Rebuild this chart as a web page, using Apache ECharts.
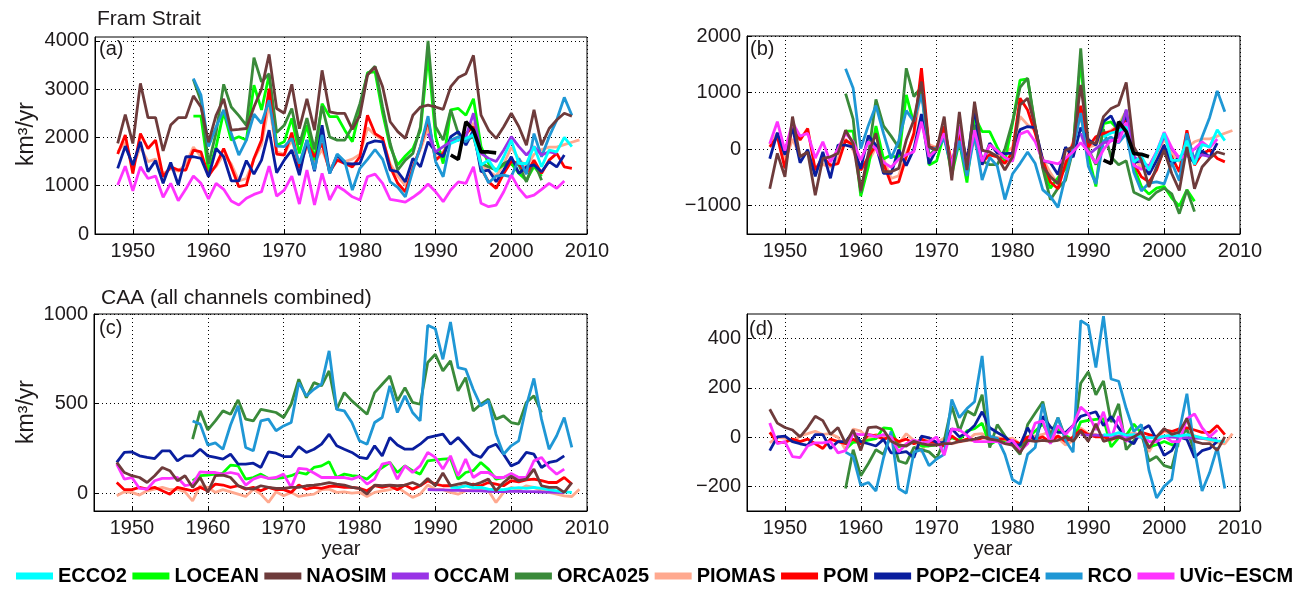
<!DOCTYPE html>
<html><head><meta charset="utf-8">
<script src="https://cdn.jsdelivr.net/npm/echarts@6/dist/echarts.min.js"></script>
<style>html,body{margin:0;padding:0;background:#fff}#c{width:1302px;height:589px}</style>
</head><body><div id="c"></div>
<script>
// ---------- models ----------
const modelNames  = ['ECCO2','LOCEAN','NAOSIM','OCCAM','ORCA025','PIOMAS','POM','POP2\u2212CICE4','RCO','UVic\u2212ESCM'];
const modelColors = ['#00FFFF','#00FF00','#6E3B3B','#9933E6','#3A8A3A','#FFA98F','#FF0000','#0A1E9E','#1F97D5','#FF33FF'];
const startYears  = [1992,1958,1948,1989,1958,1948,1948,1948,1958,1948];
const obsStart = 1992;

// ---------- tick labels ----------
const xTickYears = [1950,1960,1970,1980,1990,2000,2010];
const framTicks = [0,1000,2000,3000,4000];
const framAnomTicks = [-1000,0,1000,2000];
const caaTicks = [0,500,1000];
const caaAnomTicks = [-200,0,200,400];

// ---------- (a) Fram Strait, km3/yr ----------
const framECCO2 = [1875,1945,1980,2050,1430,1530,1290,1600,1945,1460,1460,1810,1390,1740,1700,2000,1810];
const framLOCEAN = [2440,2440,1290,1810,2530,1945,2015,1945,3080,2570,3290,1840,1910,2395,1670,2255,1530,2700,2430,2430,2150,1910,2570,3340,3360,2500,1810,1430,1615,1770,2150,3700,2015,1460,2570,2600,2460,2800,1810,1460,1325,1430,1460,1255,1115,1400,1200];
const framNAOSIM = [1875,2475,1875,3120,2410,2410,1720,2255,2410,2410,2860,2630,1900,2460,2800,2150,2165,2185,2630,3000,3720,2600,2500,3100,2180,2800,2150,3390,2530,2500,2500,2165,2460,3290,3460,3050,2325,2120,1980,2460,2630,2670,2630,2580,3050,3240,3320,3700,2460,2150,1980,2220,2500,2220,1840,2570,1840,2185,2360,2500,2440];
const framOCCAM = [2080,1700,1810,1910,1945,2015,2500,1670,1565,1500,1740,2015,1810,1635,1810,1635,1700,1670];
const framORCA025 = [3200,2750,1450,2100,3100,2630,2450,2250,3650,3150,3320,2100,2250,2600,1850,2400,1750,2650,2010,1945,1945,2220,2700,3310,3475,2630,1875,1325,1530,1670,2220,4000,2220,1945,2570,2080,1945,2015,1460,1390,1325,1460,1530,1430,1080,1500,1115];
const framPIOMAS = [1700,1900,1400,1800,1500,1550,1250,1350,1300,1450,1800,1600,1250,1400,1650,1450,1100,1150,1550,1850,2700,1700,1650,1950,1400,1800,1500,1750,1350,1550,1500,1550,1650,2200,2050,1950,1450,1200,1000,1400,1750,2200,1650,1700,1900,1950,2050,2300,1450,1300,1200,1450,1800,1550,1400,1650,1750,1800,1800,1850,1900,1950];
const framPOM = [1655,2050,1255,2080,1770,1945,1185,1390,1325,1325,1740,1700,1200,1430,1770,1390,980,1015,1565,1945,3010,1655,1635,2100,1360,1875,1600,1875,1290,1530,1460,1390,1600,2460,2080,1980,1390,1050,875,1360,1810,2360,1530,1670,1945,1945,2080,2220,1360,1080,945,1255,1500,1460,1255,1530,1255,1530,1670,1390,1360];
const framPOP2 = [1360,1820,1430,1910,1290,1520,1050,1480,1015,1600,1600,1565,1185,1770,1600,1100,1100,1520,1240,1530,2150,1270,1530,1740,1220,1945,1300,2255,1255,1635,1460,1450,1460,1875,1930,1910,1325,1290,1080,1565,1390,1910,1700,1600,2015,2120,1840,2150,1290,1325,1080,1325,1600,1255,1390,1430,1290,1500,1390,1635];
const framRCO = [3220,2875,1810,2220,2570,2080,1635,1945,2480,2290,2770,1820,1810,1980,1460,1945,1325,2050,1255,1655,1500,910,1360,1545,1750,1545,1080,965,770,1325,1810,2440,1500,1185,1945,2015,1910,2080,1390,1060,1200,1220,1185,1565,1240,2080,1600,2015,2360,2830,2460];
const framUVic = [1015,1405,895,1390,1150,1200,760,1050,690,930,1200,1050,725,1050,925,685,600,740,820,875,1405,785,910,1200,620,1325,600,1255,705,995,895,770,705,1185,1240,1050,715,690,660,760,875,1035,875,670,910,1080,1050,1390,635,565,600,875,1220,945,760,805,925,1050,945,1100];
const framObs = [1635,1545,2325,2150,1700,1700,1680];

// ---------- (b) Fram Strait anomalies ----------
const framAnomECCO2 = [215,285,320,390,-230,-130,-370,-60,285,-200,-200,150,-270,80,40,340,150];
const framAnomLOCEAN = [320,320,-830,-310,410,-175,-105,-175,960,450,1170,-280,-210,275,-450,135,-590,580,310,310,30,-210,450,1220,1240,380,-310,-690,-505,-350,30,1580,-105,-660,450,480,340,680,-310,-660,-795,-690,-660,-865,-1005,-720,-920];
const framAnomNAOSIM = [-700,-75,-490,575,-135,-50,-815,-165,-135,-75,335,100,-730,-75,280,-400,-400,-340,160,515,1195,40,-20,575,-550,660,-370,840,-20,-50,-130,-370,-140,780,900,400,-310,-490,-610,-20,40,1135,130,100,575,720,780,1180,40,-195,-670,-315,-20,-430,-730,40,-700,-315,-165,-50,-90];
const framAnomOCCAM = [280,-100,10,110,145,215,700,-130,-235,-300,-60,215,10,-165,10,-165,-100,-130];
const framAnomORCA025 = [980,530,-770,-120,880,410,230,30,1430,930,1100,-120,30,380,-370,180,-470,430,-210,-275,-275,0,480,1090,1255,410,-345,-895,-690,-550,0,1780,0,-275,350,-140,-275,-205,-760,-830,-895,-760,-690,-790,-1140,-720,-1105];
const framAnomPIOMAS = [80,280,-220,180,-120,-70,-370,-270,-320,-170,180,-20,-370,-220,30,-170,-520,-470,-70,230,1080,80,30,330,-220,180,-120,130,-270,-70,-120,-70,30,580,430,330,-170,-420,-620,-220,130,580,30,80,280,330,430,680,-170,-320,-420,-170,180,-70,-220,30,130,180,180,230,280,330];
const framAnomPOM = [40,220,-340,425,160,365,-370,-135,-285,-255,160,70,-370,-135,70,-255,-610,-580,-135,280,1430,40,10,400,-285,280,-195,280,-225,-100,-135,-255,-50,900,690,280,-195,-580,-700,-255,100,765,40,220,280,310,400,515,-255,-490,-580,-370,10,-135,-400,335,-285,-75,-20,-165,-225];
const framAnomPOP2 = [-170,290,-100,380,-240,-10,-480,-50,-515,70,70,35,-345,240,70,-430,-430,-10,-290,0,620,-260,0,210,-310,415,-230,725,-275,105,-70,-80,-70,345,400,380,-205,-240,-450,35,-140,380,170,70,485,590,310,620,-240,-205,-450,-205,70,-275,-140,-100,-240,-30,-140,105];
const framAnomRCO = [1420,1075,10,420,770,280,-165,145,680,490,970,20,10,180,-340,145,-475,250,-545,-145,-300,-890,-440,-255,-50,-255,-720,-835,-1030,-475,10,640,-300,-615,145,215,110,280,-410,-740,-600,-580,-615,-235,-560,280,-200,215,560,1030,660];
const framAnomUVic = [95,485,-25,470,230,280,-160,130,-230,10,280,130,-195,130,5,-235,-320,-180,-100,-45,485,-135,-10,280,-300,405,-320,335,-215,75,-25,-150,-215,265,320,130,-205,-230,-260,-160,-45,115,-45,-250,-10,160,130,470,-285,-355,-320,-45,300,25,-160,-115,5,130,25,180];
const framAnomObs = [-195,-255,485,310,-80,-90,-135];

// ---------- (c) CAA, km3/yr ----------
const caaECCO2 = [32,30,40,30,32,22,19,19,26,30,26,32,26,19,13,7,4];
const caaLOCEAN = [69,97,100,106,112,156,152,78,87,106,82,82,87,97,115,106,143,152,175,87,106,97,93,78,115,143,171,115,152,125,106,180,186,190,193,78,115,125,171,134,78,87,100,87,85];
const caaNAOSIM = [171,115,97,87,59,97,143,125,69,97,32,87,4,97,100,87,41,26,22,41,32,26,26,32,32,41,45,50,59,50,45,32,26,-6,45,41,45,41,45,59,41,82,41,112,41,50,59,45,59,78,13,59,93,69,78,134,41,32,32,4,59];
const caaOCCAM = [20,18,18,16,15,14,12,12,10,8,8,10,10,8,8,6,5,4,3];
const caaORCA025 = [301,459,353,403,459,440,520,413,403,468,459,450,422,496,636,533,617,599,682,468,561,515,478,440,561,608,654,515,589,506,496,729,775,682,738,571,645,459,496,524,413,431,394,385,506,543,450];
const caaPIOMAS = [-15,7,4,-11,13,22,32,19,22,7,-43,41,32,4,19,7,-6,-19,22,-6,-52,7,-15,4,-19,-11,-6,19,22,4,7,0,4,-19,4,13,19,32,4,-24,-6,45,22,19,4,-6,13,19,26,13,-52,4,32,19,41,32,13,4,-6,-15,-19,22];
const caaPOM = [59,19,19,32,22,32,13,-6,32,22,13,32,13,50,45,32,41,22,32,13,32,19,19,4,45,22,32,26,37,37,32,32,26,13,41,32,41,19,45,22,41,69,50,41,41,32,41,50,41,59,50,41,69,63,74,78,69,59,59,87,50];
const caaPOP2 = [171,227,230,208,199,193,236,236,180,208,208,245,208,199,190,217,162,162,167,143,230,223,204,204,260,227,245,273,329,264,245,227,199,193,264,208,310,268,245,245,273,310,320,329,273,310,264,217,199,255,273,217,152,171,227,217,143,171,180,208];
const caaRCO = [403,385,268,280,245,380,487,255,236,403,413,348,375,394,617,543,580,608,794,468,459,394,292,273,394,422,599,450,543,450,403,937,918,747,955,700,691,580,487,515,329,217,264,292,487,640,413,245,320,422,255];
const caaUVic = [162,78,87,26,22,69,82,82,87,41,50,119,115,115,106,115,106,45,78,93,82,87,106,32,138,134,112,87,87,87,87,78,93,50,78,162,171,78,152,115,152,227,199,134,208,97,190,87,115,115,87,87,110,87,87,180,199,143,106,134];

// ---------- (d) CAA anomalies ----------
const caaAnomECCO2 = [10,8,18,8,10,0,-3,-3,4,8,4,10,4,-3,-9,-15,-18];
const caaAnomLOCEAN = [-49,-21,-18,-12,-6,38,34,-40,-31,-12,-36,-36,-31,-21,-3,-12,25,34,57,-31,-12,-21,-25,-40,-3,25,53,-3,34,7,-12,62,68,72,75,-40,-3,7,53,16,-40,-31,-18,-31,-33];
const caaAnomNAOSIM = [113,57,39,29,1,39,85,67,11,39,-26,29,-54,39,42,29,-17,-32,-36,-17,-26,-32,-32,-26,-26,-17,-13,-8,1,-8,-13,-26,-32,-64,-13,-17,-13,-17,-13,1,-17,24,-17,54,-17,-8,1,-13,1,20,-45,1,35,11,20,76,-17,-26,-26,-54,1];
const caaAnomOCCAM = [10,8,8,6,5,4,2,2,0,-2,-2,0,0,-2,-2,-4,-5,-6,-7];
const caaAnomORCA025 = [-209,-51,-157,-107,-51,-70,10,-97,-107,-42,-51,-60,-88,-14,126,23,107,89,172,-42,51,5,-32,-70,51,98,144,5,79,-4,-14,219,265,172,228,61,135,-51,-14,14,-97,-79,-116,-125,-4,33,-60];
const caaAnomPIOMAS = [-23,-1,-4,-19,5,14,24,11,14,-1,-51,33,24,-4,11,-1,-14,-27,14,-14,-60,-1,-23,-4,-27,-19,-14,11,14,-4,-1,-8,-4,-27,-4,5,11,24,-4,-32,-14,37,14,11,-4,-14,5,11,18,5,-60,-4,24,11,33,24,5,-4,-14,-23,-27,14];
const caaAnomPOM = [19,-21,-21,-8,-18,-8,-27,-46,-8,-18,-27,-8,-27,10,5,-8,1,-18,-8,-27,-8,-21,-21,-36,5,-18,-8,-14,-3,-3,-8,-8,-14,-27,1,-8,1,-21,5,-18,1,29,10,1,1,-8,1,10,1,19,10,1,29,23,34,38,29,19,19,47,10];
const caaAnomPOP2 = [-55,1,4,-18,-27,-33,10,10,-46,-18,-18,19,-18,-27,-36,-9,-64,-64,-59,-83,4,-3,-22,-22,34,1,19,47,103,38,19,1,-27,-33,38,-18,84,42,19,19,47,84,94,103,47,84,38,-9,-27,29,47,-9,-74,-55,1,-9,-83,-55,-46,-18];
const caaAnomRCO = [-61,-79,-196,-184,-219,-84,23,-209,-228,-61,-51,-116,-89,-70,153,79,116,144,330,4,-5,-70,-172,-191,-70,-42,135,-14,79,-14,-61,473,454,283,491,236,227,116,23,51,-135,-247,-200,-172,23,176,-51,-219,-144,-42,-209];
const caaAnomUVic = [57,-27,-18,-79,-83,-36,-23,-23,-18,-64,-55,14,10,10,1,10,1,-60,-27,-12,-23,-18,1,-73,33,29,7,-18,-18,-18,-18,-27,-12,-55,-27,57,66,-27,47,10,47,122,94,29,103,-8,85,-18,10,10,-18,-18,5,-18,-18,75,94,38,1,29];

const panelA = [framECCO2,framLOCEAN,framNAOSIM,framOCCAM,framORCA025,framPIOMAS,framPOM,framPOP2,framRCO,framUVic];
const panelB = [framAnomECCO2,framAnomLOCEAN,framAnomNAOSIM,framAnomOCCAM,framAnomORCA025,framAnomPIOMAS,framAnomPOM,framAnomPOP2,framAnomRCO,framAnomUVic];
const panelC = [caaECCO2,caaLOCEAN,caaNAOSIM,caaOCCAM,caaORCA025,caaPIOMAS,caaPOM,caaPOP2,caaRCO,caaUVic];
const panelD = [caaAnomECCO2,caaAnomLOCEAN,caaAnomNAOSIM,caaAnomOCCAM,caaAnomORCA025,caaAnomPIOMAS,caaAnomPOM,caaAnomPOP2,caaAnomRCO,caaAnomUVic];
const drawOrder = [5,1,4,6,7,8,3,9,0,2];

// ---------- chart ----------
const FONT = "'Liberation Sans', Arial, Helvetica, sans-serif";
const TXT = '#1E1A1B';
function pairs(start, arr){ return arr.map((v,i)=>[start+i, v]); }
function fmt(v){ return (v < 0 ? '\u2212' : '') + String(Math.abs(v)); }

function xAxisFor(g){
  return { type:'value', gridIndex:g, min:1945, max:2010,
    axisLine:{show:true,onZero:false,lineStyle:{color:'#000',width:1}},
    axisTick:{show:true,inside:true,length:5,customValues:xTickYears,lineStyle:{color:'#000'}},
    axisLabel:{show:true,customValues:xTickYears,formatter:fmt,margin:7,fontSize:20,color:TXT,fontFamily:FONT},
    splitLine:{show:true,lineStyle:{color:'#000',type:[1,3],width:1}} };
}
function yAxisFor(g,min,max,ticks){
  return { type:'value', gridIndex:g, min:min, max:max,
    axisLine:{show:true,onZero:false,lineStyle:{color:'#000',width:1}},
    axisTick:{show:true,inside:true,length:5,customValues:ticks,lineStyle:{color:'#000'}},
    axisLabel:{show:true,customValues:ticks,formatter:fmt,margin:6,fontSize:20,color:TXT,fontFamily:FONT},
    splitLine:{show:true,lineStyle:{color:'#000',type:[1,3],width:1}} };
}

const series = [];
const panels = [panelA,panelB,panelC,panelD];
panels.forEach((p,g)=>{
  drawOrder.forEach(m=>{
    series.push({ type:'line', name:modelNames[m], xAxisIndex:g, yAxisIndex:g,
      data:pairs(startYears[m], p[m]), symbol:'none', color:modelColors[m],
      lineStyle:{color:modelColors[m], width:2.8}, emphasis:{disabled:true}, z:2 });
  });
});
series.push({ type:'line', name:'obs', xAxisIndex:0, yAxisIndex:0, data:pairs(obsStart, framObs),
  symbol:'none', color:'#000', lineStyle:{color:'#000',width:3.6}, emphasis:{disabled:true}, z:3 });
series.push({ type:'line', name:'obs', xAxisIndex:1, yAxisIndex:1, data:pairs(obsStart, framAnomObs),
  symbol:'none', color:'#000', lineStyle:{color:'#000',width:3.6}, emphasis:{disabled:true}, z:3 });

function txt(x,y,text,extra){
  return Object.assign({type:'text', x:x, y:y, z:100, silent:true,
    style:Object.assign({text:text, fontSize:20, fontFamily:FONT, fill:TXT,
      align:'left', verticalAlign:'middle', textAlign:'left', textVerticalAlign:'middle'}, extra||{})});
}

const option = {
  animation:false,
  backgroundColor:'#fff',
  grid:[
    {left:95, top:37, width:492, height:197, show:true, borderColor:'#000', borderWidth:1, backgroundColor:'#fff'},
    {left:747, top:36, width:493, height:198, show:true, borderColor:'#000', borderWidth:1, backgroundColor:'#fff'},
    {left:94, top:314, width:493, height:197, show:true, borderColor:'#000', borderWidth:1, backgroundColor:'#fff'},
    {left:747, top:314, width:493, height:197, show:true, borderColor:'#000', borderWidth:1, backgroundColor:'#fff'}
  ],
  xAxis:[xAxisFor(0),xAxisFor(1),xAxisFor(2),xAxisFor(3)],
  yAxis:[
    yAxisFor(0,0,4080,framTicks),
    yAxisFor(1,-1500,2000,framAnomTicks),
    yAxisFor(2,-100,1000,caaTicks),
    yAxisFor(3,-300,500,caaAnomTicks)
  ],
  legend:{ data:modelNames, left:16, top:566, width:1290, padding:0, itemWidth:37, itemHeight:7, itemGap:5.5, icon:'rect',
    selectedMode:false,
    textStyle:{fontSize:20, fontWeight:'bold', color:'#000', fontFamily:FONT} },
  series:series,
  graphic:[
    txt(97,19,'Fram Strait',{fontSize:21}),
    txt(101,298,'CAA (all channels combined)',{fontSize:21}),
    txt(99,49,'(a)'),
    txt(750,49,'(b)'),
    txt(99,328,'(c)'),
    txt(749,329,'(d)'),
    txt(27,134,'km\u00B3/yr',{align:'center',textAlign:'center',fontSize:23}),
    txt(27,412,'km\u00B3/yr',{align:'center',textAlign:'center',fontSize:23}),
    txt(341,549,'year',{align:'center',textAlign:'center'}),
    txt(993,549,'year',{align:'center',textAlign:'center'})
  ]
};
option.graphic[6].rotation = Math.PI/2;
option.graphic[7].rotation = Math.PI/2;

const chart = echarts.init(document.getElementById('c'), null, {renderer:'canvas'});
chart.setOption(option);
</script></body></html>
